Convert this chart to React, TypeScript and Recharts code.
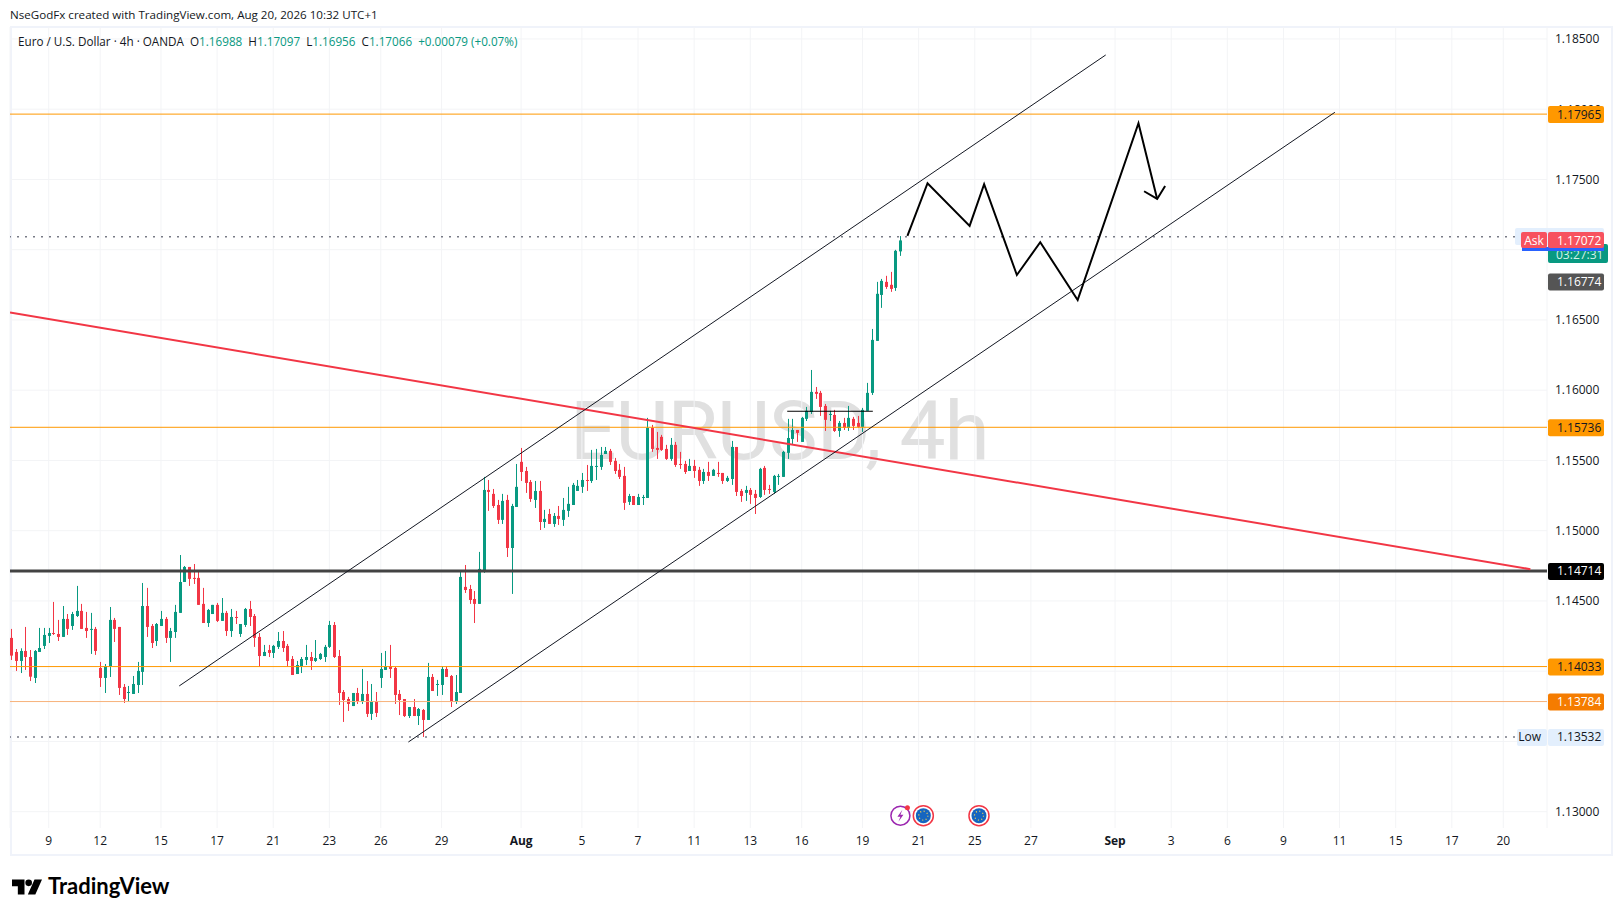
import { Bar, CartesianGrid, ComposedChart, Line, ReferenceDot, ReferenceLine, XAxis, YAxis } from "recharts"

const opens = [
  1.14237, 1.14137, 1.14073, 1.14144, 1.14101, 1.13952, 1.14137, 1.1418, 1.14251, 1.14272, 1.14265, 1.14244, 1.14372, 1.14322, 1.14393, 1.14429,
  1.14308, 1.14294, 1.14301, 1.14023, 1.13952, 1.14037, 1.14365, 1.14315, 1.13888, 1.13845, 1.13838, 1.13902, 1.13995, 1.14464, 1.14322, 1.14215,
  1.14322, 1.14372, 1.14237, 1.14279, 1.14415, 1.14635, 1.14742, 1.14664, 1.14664, 1.14479, 1.14343, 1.14407, 1.14472, 1.14358, 1.14415, 1.14286,
  1.14386, 1.14265, 1.14329, 1.14443, 1.14393, 1.14244, 1.14108, 1.14151, 1.1413, 1.14173, 1.14215, 1.1418, 1.14087, 1.1398, 1.14037, 1.1408,
  1.14101, 1.14073, 1.14087, 1.14101, 1.14173, 1.14329, 1.14108, 1.13852, 1.13802, 1.13752, 1.13845, 1.13788, 1.13838, 1.13696, 1.13781, 1.13952,
  1.14009, 1.14037, 1.14023, 1.13838, 1.13802, 1.13681, 1.13745, 1.13681, 1.13724, 1.13653, 1.13959, 1.13902, 1.13902, 1.14016, 1.13966, 1.13781,
  1.13845, 1.146, 1.14585, 1.14514, 1.14479, 1.14714, 1.1529, 1.15262, 1.15183, 1.15077, 1.15219, 1.14877, 1.15169, 1.1549, 1.15425, 1.15347,
  1.15219, 1.15283, 1.15062, 1.15119, 1.15048, 1.15105, 1.15077, 1.15141, 1.15183, 1.15283, 1.15312, 1.15361, 1.15354, 1.15454, 1.15454, 1.15546,
  1.15568, 1.15497, 1.15433, 1.1539, 1.15205, 1.15247, 1.15183, 1.15233, 1.15233, 1.15732, 1.15589, 1.15668, 1.15582, 1.15511, 1.15611, 1.15475,
  1.15475, 1.15425, 1.15461, 1.15433, 1.15354, 1.15418, 1.1539, 1.15411, 1.15411, 1.15354, 1.15368, 1.15596, 1.15283, 1.15269, 1.1529, 1.15262,
  1.1524, 1.15447, 1.15297, 1.15276, 1.15383, 1.15383, 1.15554, 1.15653, 1.15717, 1.15632, 1.15796, 1.15845, 1.15988, 1.15981, 1.15888, 1.15824,
  1.15824, 1.1571, 1.15767, 1.15732, 1.15796, 1.15767, 1.15739, 1.15853, 1.15981, 1.16351, 1.16678, 1.16771, 1.1675, 1.16728, 1.16988,
]
const closes = [
  1.14111, 1.14073, 1.14144, 1.14101, 1.13961, 1.14144, 1.14165, 1.14258, 1.14272, 1.14265, 1.14244, 1.14372, 1.14301, 1.14407, 1.14429, 1.14301,
  1.14286, 1.14301, 1.14144, 1.13952, 1.14037, 1.14365, 1.14301, 1.13881, 1.13802, 1.13852, 1.13909, 1.14002, 1.14464, 1.14315, 1.14201, 1.14336,
  1.14372, 1.14237, 1.14286, 1.14422, 1.14635, 1.14742, 1.14657, 1.14657, 1.14472, 1.14343, 1.14436, 1.14472, 1.14358, 1.14415, 1.14286, 1.14386,
  1.14379, 1.14336, 1.14443, 1.14386, 1.14237, 1.14108, 1.14137, 1.1413, 1.1418, 1.14215, 1.14165, 1.14073, 1.13973, 1.14044, 1.14087, 1.14101,
  1.14073, 1.14094, 1.14123, 1.14173, 1.14329, 1.14101, 1.13845, 1.13795, 1.13767, 1.13845, 1.13788, 1.13838, 1.13696, 1.13781, 1.13703, 1.14016,
  1.14037, 1.14016, 1.13831, 1.13795, 1.13681, 1.13745, 1.13681, 1.13731, 1.13653, 1.13959, 1.13859, 1.13909, 1.14016, 1.13959, 1.13781, 1.13852,
  1.14671, 1.14578, 1.14507, 1.14479, 1.14728, 1.1529, 1.15276, 1.15176, 1.15077, 1.15212, 1.14877, 1.15176, 1.15312, 1.15418, 1.1534, 1.15226,
  1.15283, 1.15062, 1.15084, 1.15048, 1.15105, 1.15084, 1.15148, 1.15191, 1.15326, 1.15319, 1.15361, 1.15354, 1.15461, 1.15461, 1.15539, 1.15568,
  1.1549, 1.15425, 1.15383, 1.15198, 1.15247, 1.15183, 1.1524, 1.1524, 1.15732, 1.15582, 1.15575, 1.15575, 1.15511, 1.15611, 1.15468, 1.15468,
  1.15418, 1.15461, 1.15425, 1.15354, 1.15418, 1.1539, 1.15433, 1.15404, 1.15354, 1.15376, 1.15596, 1.15276, 1.15247, 1.1529, 1.15255, 1.15233,
  1.1544, 1.1529, 1.1529, 1.1539, 1.1539, 1.15561, 1.1566, 1.15717, 1.15696, 1.15803, 1.15853, 1.15988, 1.15974, 1.15881, 1.15789, 1.15831,
  1.1571, 1.15767, 1.15732, 1.15803, 1.15746, 1.15739, 1.1586, 1.15981, 1.16358, 1.16686, 1.16778, 1.16735, 1.16721, 1.16992, 1.17066,
]
const highs = [
  1.14301, 1.14158, 1.14163, 1.14315, 1.14151, 1.14151, 1.14308, 1.14308, 1.14308, 1.14493, 1.14365, 1.14464, 1.14407, 1.14422, 1.14607, 1.14479,
  1.14422, 1.14415, 1.14315, 1.14066, 1.14051, 1.14457, 1.14379, 1.14315, 1.13909, 1.13895, 1.13966, 1.14066, 1.14628, 1.14593, 1.14336, 1.14343,
  1.14429, 1.14386, 1.14308, 1.14472, 1.14827, 1.14749, 1.14742, 1.14763, 1.14706, 1.14593, 1.14443, 1.14472, 1.14486, 1.14521, 1.14429, 1.14443,
  1.14429, 1.14336, 1.1445, 1.145, 1.14407, 1.14272, 1.14187, 1.14187, 1.14187, 1.14279, 1.14286, 1.14194, 1.14108, 1.14073, 1.14101, 1.14187,
  1.14137, 1.14222, 1.1413, 1.14187, 1.14358, 1.1435, 1.14151, 1.13866, 1.13817, 1.13845, 1.13881, 1.14016, 1.1393, 1.13909, 1.13852, 1.1413,
  1.14144, 1.14187, 1.1403, 1.13866, 1.13802, 1.13745, 1.13802, 1.13738, 1.13731, 1.14059, 1.1398, 1.13938, 1.14037, 1.14037, 1.13973, 1.13973,
  1.14714, 1.14756, 1.14614, 1.14571, 1.14849, 1.15383, 1.15361, 1.15297, 1.15219, 1.15262, 1.15255, 1.15191, 1.15475, 1.15589, 1.15454, 1.15361,
  1.15354, 1.15354, 1.15148, 1.15155, 1.15126, 1.15176, 1.15233, 1.15312, 1.1534, 1.15361, 1.15411, 1.15468, 1.15575, 1.15582, 1.15596, 1.15596,
  1.15582, 1.15518, 1.15475, 1.15454, 1.15262, 1.15247, 1.15262, 1.15255, 1.15803, 1.15753, 1.15703, 1.15682, 1.15611, 1.1566, 1.15632, 1.15561,
  1.15497, 1.15511, 1.15504, 1.15454, 1.1544, 1.1549, 1.1544, 1.1549, 1.15411, 1.1539, 1.15639, 1.15596, 1.15297, 1.15319, 1.15304, 1.1529,
  1.15447, 1.15461, 1.15326, 1.15397, 1.15404, 1.15568, 1.15796, 1.15796, 1.15717, 1.1581, 1.15881, 1.16144, 1.16023, 1.15995, 1.15902, 1.15853,
  1.1586, 1.15781, 1.15803, 1.15888, 1.1581, 1.15817, 1.15874, 1.16052, 1.16436, 1.16771, 1.16792, 1.16814, 1.16842, 1.16999, 1.17097,
]
const lows = [
  1.1408, 1.14002, 1.13987, 1.14009, 1.1393, 1.13916, 1.14137, 1.14158, 1.14201, 1.14258, 1.14215, 1.14244, 1.14258, 1.14294, 1.14386, 1.14301,
  1.14237, 1.14123, 1.14116, 1.13888, 1.13845, 1.13959, 1.14208, 1.13831, 1.13774, 1.13781, 1.13838, 1.13845, 1.13902, 1.14244, 1.14165, 1.1418,
  1.14322, 1.14201, 1.14066, 1.14237, 1.14415, 1.14635, 1.14607, 1.14621, 1.14472, 1.14343, 1.14315, 1.14407, 1.1435, 1.14358, 1.14251, 1.14244,
  1.14336, 1.14244, 1.14315, 1.14322, 1.14173, 1.14032, 1.14108, 1.14101, 1.14094, 1.14158, 1.14137, 1.1403, 1.13973, 1.1398, 1.13987, 1.14044,
  1.14009, 1.14066, 1.1408, 1.14066, 1.14165, 1.14094, 1.1376, 1.13639, 1.13717, 1.13752, 1.13767, 1.13767, 1.13674, 1.13653, 1.13674, 1.13881,
  1.14009, 1.13952, 1.13767, 1.13688, 1.13674, 1.13667, 1.13681, 1.13617, 1.13532, 1.13653, 1.13859, 1.13824, 1.13831, 1.13959, 1.13745, 1.13767,
  1.13845, 1.14557, 1.14479, 1.14343, 1.14479, 1.147, 1.15141, 1.15162, 1.15048, 1.15048, 1.14813, 1.1455, 1.15169, 1.15354, 1.15269, 1.15205,
  1.15162, 1.15005, 1.1502, 1.15048, 1.15027, 1.15041, 1.15034, 1.15098, 1.15183, 1.15283, 1.15269, 1.15283, 1.1534, 1.15361, 1.15433, 1.15546,
  1.15468, 1.15404, 1.15368, 1.15148, 1.15183, 1.15183, 1.15183, 1.15183, 1.15233, 1.15561, 1.15511, 1.15568, 1.15504, 1.15497, 1.15454, 1.1544,
  1.15404, 1.15425, 1.15376, 1.15319, 1.15333, 1.15354, 1.1539, 1.15383, 1.15333, 1.15347, 1.15326, 1.15247, 1.15205, 1.15212, 1.15191, 1.15119,
  1.15233, 1.15255, 1.15262, 1.15262, 1.15326, 1.15383, 1.15511, 1.15618, 1.15632, 1.15632, 1.15781, 1.15831, 1.15938, 1.15817, 1.1571, 1.15781,
  1.15703, 1.15668, 1.15717, 1.1571, 1.15717, 1.15732, 1.15703, 1.15853, 1.15966, 1.16351, 1.16586, 1.16721, 1.167, 1.16707, 1.16956,
]

const gridPrices = [1.13, 1.135, 1.14, 1.145, 1.15, 1.155, 1.16, 1.165, 1.17, 1.175, 1.18, 1.185]
// the others sit behind the price tags in the reference
const priceTicks = [1.13, 1.145, 1.15, 1.155, 1.16, 1.165, 1.175, 1.185]
const dateTicks = [8, 19, 32, 44, 56, 68, 79, 92, 109, 122, 134, 146, 158, 169, 182, 194, 206, 218, 236, 248, 260, 272, 284, 296, 308, 319]
const dateLabels = ["9", "12", "15", "17", "21", "23", "26", "29", "Aug", "5", "7", "11", "13", "16", "19", "21", "25", "27", "Sep", "3", "6", "9", "11", "15", "17", "20"]

const channelUpper = [{ i: 35.9, price: 1.13895 }, { i: 234, price: 1.18386 }]
const channelLower = [{ i: 84.9, price: 1.13496 }, { i: 283, price: 1.17978 }]
const redTrend = [{ i: -0.28, price: 1.16553 }, { i: 324.8, price: 1.14726 }]
const rangeMark = [{ i: 165.9, price: 1.1585 }, { i: 184.2, price: 1.1585 }]
const projection = [
  { i: 191.6, price: 1.17098 },
  { i: 195.9, price: 1.17473 },
  { i: 204.9, price: 1.17169 },
  { i: 208, price: 1.17466 },
  { i: 215, price: 1.1682 },
  { i: 220, price: 1.17053 },
  { i: 228, price: 1.16642 },
  { i: 241, price: 1.179 },
  { i: 245, price: 1.17361 },
]
const arrowHead = [{ i: 242.2, price: 1.17416 }, { i: 245, price: 1.17361 }, { i: 246.7, price: 1.17454 }]

const candles = opens.map((open, i) => ({ i, open, close: closes[i], high: highs[i], low: lows[i] }))

const GREEN = "#089981"
const RED = "#F23645"
const FONT = "'Open Sans', sans-serif"

function Candle(props: any) {
  const { x, y, width, height, payload } = props
  const { open, close, high, low } = payload
  const perUnit = height / (high - low)
  const cx = Math.round(x + width / 2)
  const top = y + (high - Math.max(open, close)) * perUnit
  const bodyH = Math.max(1, Math.abs(open - close) * perUnit)
  const color = close >= open ? GREEN : RED
  return (
    <g>
      <rect x={cx} y={y} width={1} height={height} fill={color} />
      <rect x={cx - 1} y={top} width={3} height={bodyH} fill={color} />
    </g>
  )
}

function DateTick({ x, y, payload }: any) {
  const label = dateLabels[dateTicks.indexOf(payload.value)]
  const bold = label === "Aug" || label === "Sep"
  return (
    <text x={x} y={y + 9} textAnchor="middle" fontSize={12} fontFamily={FONT} fontWeight={bold ? 700 : 400} fill="#131722">
      {label}
    </text>
  )
}

function priceTag(text: string, bg: string, fg: string, side?: string) {
  return ({ viewBox }: any) => {
    const right = viewBox.x + viewBox.width
    const y = viewBox.y
    return (
      <g>
        {side && <rect x={right - 30} y={y - 8} width={30} height={17} rx={2} fill={bg} />}
        {side && (
          <text x={right - 6} y={y + 4.5} textAnchor="end" fontSize={12} fontFamily={FONT} fill={fg}>
            {side}
          </text>
        )}
        <rect x={right + 1} y={y - 8} width={56} height={17} rx={2} fill={bg} />
        <text x={right + 10} y={y + 4.5} fontSize={12} fontFamily={FONT} fill={fg}>
          {text}
        </text>
      </g>
    )
  }
}

function peekTick({ viewBox }: any) {
  return (
    <text x={viewBox.x + viewBox.width + 10} y={viewBox.y + 4.5} fontSize={12} fontFamily={FONT} fill="#131722">
      1.18000
    </text>
  )
}

function askTag({ viewBox }: any) {
  const right = viewBox.x + viewBox.width
  const y = viewBox.y
  return (
    <g>
      <rect x={right + 1} y={y + 4} width={60} height={19} rx={2} fill={GREEN} />
      <text x={right + 9} y={y + 19} fontSize={12} fontFamily={FONT} fill="#d5f2ea">
        03:27:31
      </text>
      <rect x={right - 32} y={y - 12} width={89} height={17} rx={2} fill="#E3EFFD" />
      <rect x={right - 25} y={y + 7} width={82} height={4} fill="#2962FF" />
      <rect x={right - 26} y={y - 8} width={26} height={16} rx={2} fill="#F7525F" />
      <text x={right - 13} y={y + 4.5} textAnchor="middle" fontSize={12} fontFamily={FONT} fill="#fff">
        Ask
      </text>
      <rect x={right + 1} y={y - 8} width={56} height={16} rx={2} fill="#F7525F" />
      <text x={right + 10} y={y + 4.5} fontSize={12} fontFamily={FONT} fill="#fff">
        1.17072
      </text>
    </g>
  )
}

function BoltIcon({ cx, cy }: any) {
  return (
    <g>
      <circle cx={cx} cy={cy} r={9.5} fill="#fff" stroke="#9C27B0" strokeWidth={1.5} />
      <path d={`M${cx + 2} ${cy - 6}L${cx - 3} ${cy + 1}H${cx}L${cx - 2} ${cy + 6}L${cx + 3} ${cy - 1}H${cx}Z`} fill="#9C27B0" />
      <circle cx={cx + 7} cy={cy - 8} r={2.5} fill={RED} />
    </g>
  )
}

function FlagIcon({ cx, cy }: any) {
  return (
    <g>
      <circle cx={cx} cy={cy} r={10} fill="#fff" stroke={RED} strokeWidth={1.5} />
      <circle cx={cx} cy={cy} r={7.5} fill="#1565C0" />
      <circle cx={cx} cy={cy} r={4.5} fill="none" stroke="#FFD54F" strokeWidth={1.2} strokeDasharray="1 2.5" />
    </g>
  )
}

export default function App() {
  return (
    <div style={{ position: "absolute", left: 0, top: 0, width: 1623, height: 916, background: "#fff", overflow: "hidden", fontFamily: FONT, color: "#131722" }}>
      <div style={{ position: "absolute", left: 10, top: 7, fontSize: 11.6, whiteSpace: "nowrap" }}>
        NseGodFx created with TradingView.com, Aug 20, 2026 10:32 UTC+1
      </div>
      <div style={{ position: "absolute", left: 10, top: 26, width: 1603, height: 830, boxSizing: "border-box", border: "2px solid #f0f3fa" }} />
      <div style={{ position: "absolute", left: 570, top: 383, fontFamily: "Roboto", fontSize: 82, letterSpacing: -1.1, color: "#e0e0e0", whiteSpace: "nowrap" }}>EURUSD, 4h</div>
      <div style={{ position: "absolute", left: 0, top: 0 }}>
        <ComposedChart width={1613} height={855} data={candles} margin={{ top: 27, right: 0, bottom: 0, left: 10 }}>
          <CartesianGrid stroke="#f3f4f6" horizontalValues={gridPrices} />
          <XAxis
            dataKey="i"
            type="number"
            domain={[-0.28, 328.35]}
            allowDataOverflow
            ticks={dateTicks}
            interval={0}
            height={27}
            axisLine={false}
            tickLine={false}
            tick={DateTick}
          />
          <YAxis
            orientation="right"
            type="number"
            width={66}
            domain={[1.12884, 1.18585]}
            allowDataOverflow
            ticks={priceTicks}
            interval={0}
            axisLine={false}
            tickLine={false}
            tickFormatter={(v: number) => v.toFixed(5)}
            tick={{ fontSize: 12, fontFamily: FONT, fill: "#131722" }}
          />
          <Bar dataKey={(d: any) => [d.low, d.high]} barSize={3} shape={Candle} isAnimationActive={false} />
          <ReferenceLine y={1.17093} stroke="#787b86" strokeWidth={1.5} strokeDasharray="2 6" />
          <ReferenceLine y={1.13532} stroke="#787b86" strokeWidth={1.5} strokeDasharray="2 6" label={priceTag("1.13532", "#E3EFFD", "#131722", "Low")} />
          <ReferenceLine y={1.18} stroke="none" label={peekTick} />
          <ReferenceLine y={1.17965} stroke="#FF9800" strokeWidth={1} label={priceTag("1.17965", "#FF9800", "#131722")} />
          <ReferenceLine y={1.15736} stroke="#FF9800" strokeWidth={1} label={priceTag("1.15736", "#FF9800", "#131722")} />
          <ReferenceLine y={1.14033} stroke="#FF9800" strokeWidth={1} label={priceTag("1.14033", "#FF9800", "#131722")} />
          <ReferenceLine y={1.13784} stroke="#F7B27A" strokeWidth={1} label={priceTag("1.13784", "#F57C00", "#fff")} />
          <ReferenceLine y={1.14714} stroke="#434343" strokeWidth={3} label={priceTag("1.14714", "#000", "#fff")} />
          <ReferenceLine y={1.16774} stroke="none" label={priceTag("1.16774", "#555", "#fff")} />
          <ReferenceLine y={1.17069} stroke="none" label={askTag} />
          <Line data={redTrend} dataKey="price" stroke={RED} strokeWidth={2} dot={false} isAnimationActive={false} />
          <Line data={channelUpper} dataKey="price" stroke="#131722" strokeWidth={1} dot={false} isAnimationActive={false} />
          <Line data={channelLower} dataKey="price" stroke="#131722" strokeWidth={1} dot={false} isAnimationActive={false} />
          <Line data={rangeMark} dataKey="price" stroke="#000" strokeWidth={1.2} dot={false} isAnimationActive={false} />
          <Line data={projection} dataKey="price" stroke="#000" strokeWidth={2} dot={false} isAnimationActive={false} />
          <Line data={arrowHead} dataKey="price" stroke="#000" strokeWidth={2} dot={false} isAnimationActive={false} />
          <ReferenceDot x={190.1} y={1.12972} r={10} shape={BoltIcon} />
          <ReferenceDot x={195} y={1.12972} r={10} shape={FlagIcon} />
          <ReferenceDot x={206.9} y={1.12972} r={10} shape={FlagIcon} />
        </ComposedChart>
      </div>
      <div style={{ position: "absolute", left: 18, top: 33, fontSize: 11.7, whiteSpace: "pre" }}>
        {"Euro / U.S. Dollar · 4h · OANDA  O"}
        <span style={{ color: GREEN }}>1.16988</span>
        {"  H"}
        <span style={{ color: GREEN }}>1.17097</span>
        {"  L"}
        <span style={{ color: GREEN }}>1.16956</span>
        {"  C"}
        <span style={{ color: GREEN }}>1.17066</span>
        <span style={{ color: GREEN }}>{"  +0.00079 (+0.07%)"}</span>
      </div>
      <svg style={{ position: "absolute", left: 12, top: 879 }} width={30} height={16} viewBox="0 0 36 18">
        <path d="M0 0H15V18H7V8H0Z M27 0H36L28 18H19Z" fill="#000" />
        <circle cx={20} cy={4} r={4} fill="#000" />
      </svg>
      <div style={{ position: "absolute", left: 48, top: 872, fontFamily: "Lato", fontWeight: 700, fontSize: 22, color: "#000", whiteSpace: "nowrap" }}>TradingView</div>
    </div>
  )
}
